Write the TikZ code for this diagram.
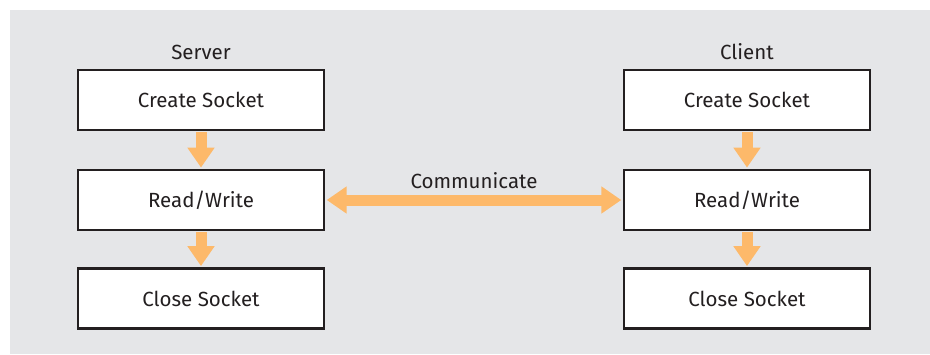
\documentclass[tikz,border=0pt]{standalone}
\usepackage{fontspec}
\setmainfont{Fira Sans}
\usetikzlibrary{arrows.meta}
\definecolor{panel}{HTML}{E5E6E8}
\definecolor{ink}{HTML}{231F20}
\definecolor{flow}{HTML}{FDB96A}
\begin{document}
\begin{tikzpicture}[x=1pt,y=-1pt,
  stepbox/.style={draw=ink,line width=2.4pt,fill=white,minimum width=246pt,minimum height=60pt,
    text=ink,font=\fontsize{20.5}{24}\selectfont,inner sep=0pt},
  head/.style={text=ink,font=\fontsize{20.5}{24}\selectfont,inner sep=0pt},
  flowarrow/.style={draw=flow,line width=11pt,-{Triangle[length=20pt,width=26pt]}},
  flowboth/.style={draw=flow,line width=11pt,{Triangle[length=20pt,width=26pt]}-{Triangle[length=20pt,width=26pt]}}]
\useasboundingbox (0,0) rectangle (930,354);
\fill[panel] (10,10) rectangle (930,354);
% server column
\node[head] (shead) at (201,52) {Server};
\node[stepbox] (screate) at (201,100) {Create Socket};
\node[stepbox] (srw) at (201,200) {Read/Write};
\node[stepbox] (sclose) at (201,298.5) {Close Socket};
% client column
\node[head] (chead) at (747,52) {Client};
\node[stepbox] (ccreate) at (747,100) {Create Socket};
\node[stepbox] (crw) at (747,200) {Read/Write};
\node[stepbox] (cclose) at (747,298.5) {Close Socket};
% flow between steps
\draw[flowarrow,shorten <=1.2pt,shorten >=1.2pt] (screate) -- (srw);
\draw[flowarrow,shorten <=1.2pt,shorten >=1.2pt] (srw) -- (sclose);
\draw[flowarrow,shorten <=1.2pt,shorten >=1.2pt] (ccreate) -- (crw);
\draw[flowarrow,shorten <=1.2pt,shorten >=1.2pt] (crw) -- (cclose);
\draw[flowboth,shorten <=1.5pt,shorten >=1.5pt] (srw) -- (crw)
  node[midway,above=6pt,text=ink,font=\fontsize{20.5}{24}\selectfont,inner sep=0pt] (comm) {Communicate};
\end{tikzpicture}
\end{document}
